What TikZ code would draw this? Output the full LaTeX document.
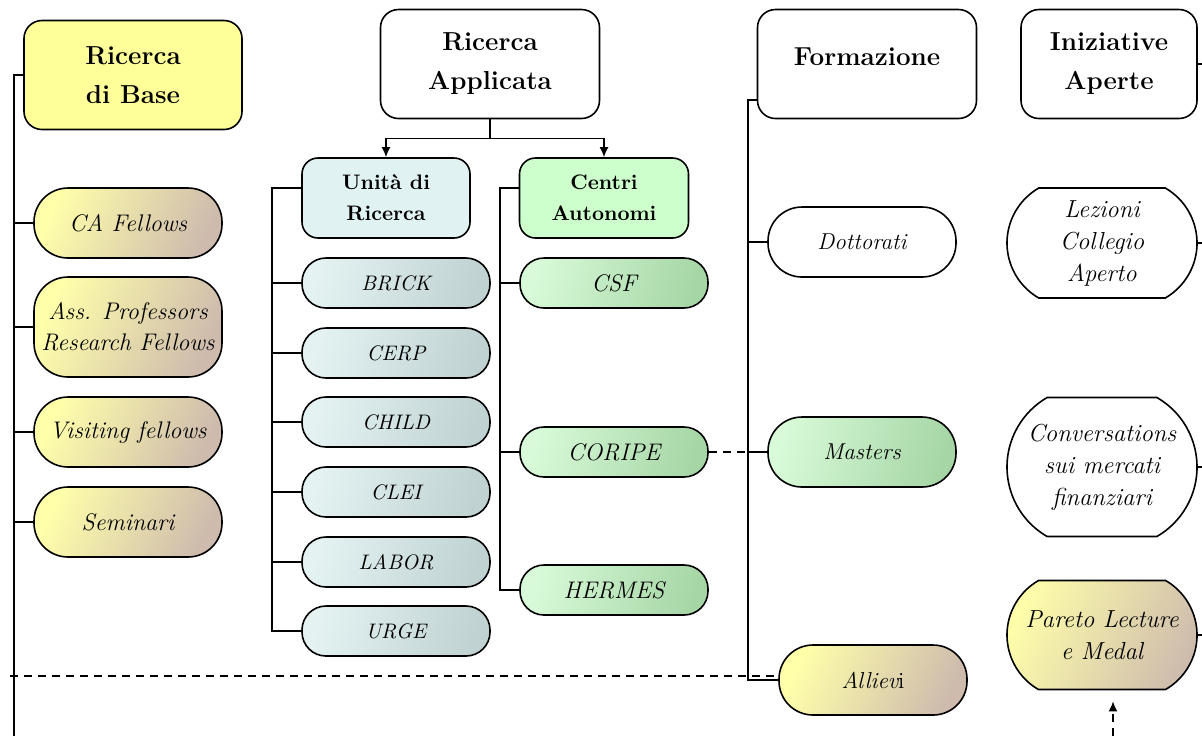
\documentclass[tikz,border=0pt]{standalone}
\usepackage[dvipsnames]{xcolor}
\usepackage{amsmath}
\usepackage{tikz}
\usetikzlibrary{positioning,shapes.misc,arrows.meta,calc}

\definecolor{baseyellow}{RGB}{255,255,153}
\definecolor{paleyellow}{RGB}{255,255,170}
\definecolor{shadetan}{RGB}{206,187,173}
\definecolor{unitcyan}{RGB}{224,242,242}
\definecolor{centrigreen}{RGB}{204,255,204}
\definecolor{greylight}{RGB}{228,242,242}
\definecolor{greydark}{RGB}{192,210,210}
\definecolor{greenlight}{RGB}{216,250,216}
\definecolor{greendark}{RGB}{166,214,166}

\begin{document}
\begin{tikzpicture}[x=0.5pt,y=-0.5pt,line width=0.8pt,
    headbox/.style={draw,rounded corners=9pt,align=center,minimum height=54.5pt,
        font=\fontsize{13}{19.5}\selectfont\bfseries},
    groupbox/.style={draw,rounded corners=8pt,align=center,minimum height=40pt,
        font=\fontsize{10.5}{15.5}\selectfont\bfseries},
    pill/.style={draw,rounded corners=17pt,align=center,minimum width=94pt,minimum height=35pt,
        font=\fontsize{12}{15.5}\selectfont\itshape},
    smallpill/.style={draw,rounded corners=12pt,align=center,minimum width=94pt,minimum height=25pt,
        font=\fontsize{10.5}{12}\selectfont\itshape},
    arcbox/.style={draw,rounded rectangle,rounded rectangle arc length=120,align=center,
        minimum width=99pt,inner xsep=2pt,font=\fontsize{12.3}{16}\selectfont\itshape},
    yellowshade/.style={left color=paleyellow,right color=shadetan,shading angle=65},
    greyshade/.style={left color=greylight,right color=greydark,shading angle=75},
    greenshade/.style={left color=greenlight,right color=greendark,shading angle=75},
    dashline/.style={dash pattern=on 4pt off 3pt}
  ]
  \useasboundingbox (0,0) rectangle (1202,736);

  % column heads
  \node[headbox,fill=baseyellow,minimum width=109pt] (rbase) at (133,75) {Ricerca\\di Base};
  \node[headbox,minimum width=109.5pt] (rapp) at (490,64) {Ricerca\\Applicata};
  \node[headbox,minimum width=109.5pt,text depth=7pt] (form) at (867,64) {Formazione};
  \node[headbox,minimum width=88pt] (inia) at (1109,64) {Iniziative\\Aperte};

  % ricerca di base
  \node[pill,yellowshade] (cafel) at (128,223) {CA Fellows};
  \node[pill,yellowshade,minimum height=50pt] (assprof) at (128,327) {Ass. Professors\\Research Fellows};
  \node[pill,yellowshade] (visit) at (128,432) {Visiting fellows};
  \node[pill,yellowshade] (semin) at (128,522) {Seminari};

  % ricerca applicata
  \node[groupbox,fill=unitcyan,minimum width=84pt] (unita) at (386,198) {Unità di\\Ricerca};
  \node[groupbox,fill=centrigreen,minimum width=84.5pt] (centri) at (604,198) {Centri\\Autonomi};
  \node[smallpill,greyshade] (brick) at (396,283) {BRICK};
  \node[smallpill,greyshade] (cerp) at (396,353) {CERP};
  \node[smallpill,greyshade] (child) at (396,422) {CHILD};
  \node[smallpill,greyshade] (clei) at (396,492) {CLEI};
  \node[smallpill,greyshade] (labor) at (396,562) {LABOR};
  \node[smallpill,greyshade] (urge) at (396,631) {URGE};
  \node[smallpill,greenshade,font=\fontsize{12}{14}\selectfont\itshape] (csf) at (614,283) {CSF};
  \node[smallpill,greenshade,font=\fontsize{12}{14}\selectfont\itshape] (coripe) at (614,452) {CORIPE};
  \node[smallpill,greenshade,font=\fontsize{12}{14}\selectfont\itshape] (hermes) at (614,590) {HERMES};

  % formazione
  \node[pill,font=\fontsize{11.5}{14}\selectfont\itshape] (dott) at (862,242) {Dottorati};
  \node[pill,greenshade,font=\fontsize{11.5}{14}\selectfont\itshape] (masters) at (862,452) {Masters};
  \node[pill,yellowshade,font=\fontsize{11.5}{14}\selectfont\itshape] (allievi) at (873,680) {Alliev\upshape i};

  % iniziative aperte
  \node[arcbox,minimum height=55pt] (lez) at (1102,243) {Lezioni\\Collegio\\Aperto};
  \node[arcbox,minimum height=69.5pt] (conv) at (1102,467) {Conversations\\sui mercati\\finanziari};
  \node[arcbox,yellowshade,minimum height=54.5pt] (pareto) at (1102,635) {Pareto Lecture\\e Medal};

  \coordinate (spineA) at (14,0);
  \coordinate (spineB) at (272,0);
  \coordinate (spineC) at (500,0);
  \coordinate (spineD) at (748,0);
  \coordinate (rightedge) at (1202,0);
  \coordinate (bottom) at (0,736);
  \coordinate (leftend) at (10,676);
  \coordinate (paretoin) at (1113,736);

  \draw (rbase.west) -- (rbase.west -| spineA) -- (spineA |- bottom);
  \foreach \n in {cafel,assprof,visit,semin}
    \draw (\n.west) -- (\n.west -| spineA);

  \draw (rapp.south) -- ++(0,19) coordinate (fork);
  \draw[-{Latex[length=5pt,width=4.5pt]}] (fork) -| (unita.north);
  \draw[-{Latex[length=5pt,width=4.5pt]}] (fork) -| (centri.north);

  \coordinate (unitaout) at ($(unita.west)!0.25!(unita.north west)$);
  \coordinate (centriout) at ($(centri.west)!0.25!(centri.north west)$);
  \draw (unitaout) -- (unitaout -| spineB) -- (spineB |- urge.west) -- (urge.west);
  \foreach \n in {brick,cerp,child,clei,labor}
    \draw (\n.west) -- (\n.west -| spineB);
  \draw (centriout) -- (centriout -| spineC) -- (spineC |- hermes.west) -- (hermes.west);
  \foreach \n in {csf,coripe}
    \draw (\n.west) -- (\n.west -| spineC);

  \coordinate (formout) at ($(form.west)!0.65!(form.south west)$);
  \draw (formout) -- (formout -| spineD) -- (spineD |- allievi.west) -- (allievi.west);
  \foreach \n in {dott,masters}
    \draw (\n.west) -- (\n.west -| spineD);

  \foreach \n in {inia,lez,conv,pareto}
    \draw (\n.east) -- (\n.east -| rightedge);

  \draw[dashline] (coripe.east) -- (masters.west);
  \draw[dashline] (leftend) -- (leftend -| allievi.west);
  \draw[dashline,-{Latex[length=5pt,width=4.5pt]},shorten >=5.5pt] (paretoin) -- (paretoin |- pareto.south);
\end{tikzpicture}
\end{document}
